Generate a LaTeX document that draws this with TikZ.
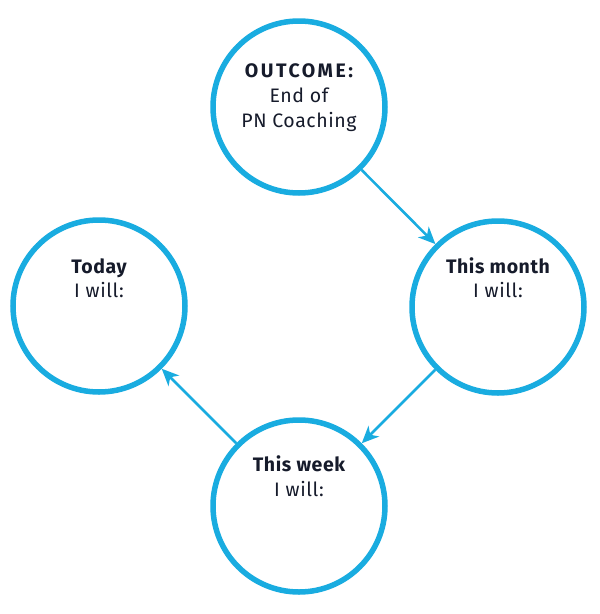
\documentclass[tikz,border=0pt]{standalone}
\usepackage{fontspec}
\setmainfont{Fira Sans}
\usetikzlibrary{arrows.meta}
\definecolor{ringblue}{RGB}{25,172,224}
\definecolor{inkdark}{RGB}{22,27,43}
\tikzset{
  ring/.style={circle, draw=ringblue, line width=5.5pt, minimum size=172pt, inner sep=0pt},
  conn/.style={draw=ringblue, line width=2.6pt, -{Stealth[length=17pt,width=15pt,inset=5pt]}},
  head/.style={anchor=base, font=\fontsize{19.5}{22}\selectfont\bfseries\addfontfeatures{LetterSpace=3}, text=inkdark, inner sep=0pt},
  wide/.style={font=\fontsize{19.5}{22}\selectfont\bfseries\addfontfeatures{LetterSpace=13}},
  body/.style={anchor=base, font=\fontsize{19.5}{22}\selectfont\addfontfeatures{LetterSpace=3}, text=inkdark, inner sep=0pt}
}
\begin{document}
\begin{tikzpicture}[x=1pt,y=-1pt]
\useasboundingbox (0,0) rectangle (600,614);
\fill[white] (0,0) rectangle (600,614);
\node[ring] (top) at (299,107) {};
\node[ring] (right) at (498,307) {};
\node[ring] (bottom) at (299,506) {};
\node[ring] (left) at (99,306) {};
\node[head, wide] (t1) at (299,77) {OUTCOME:};
\node[body] (t2) at (299,102) {End of};
\node[body] (t3) at (299,127) {PN Coaching};
\node[head] (r1) at (498,273) {This month};
\node[body] (r2) at (498,297) {I will:};
\node[head] (b1) at (299,471) {This week};
\node[body] (b2) at (299,496) {I will:};
\node[head] (l1) at (99,273) {Today};
\node[body] (l2) at (99,297) {I will:};
\draw[conn] (top) -- (right);
\draw[conn] (right) -- (bottom);
\draw[conn] (bottom) -- (left);
\end{tikzpicture}
\end{document}
